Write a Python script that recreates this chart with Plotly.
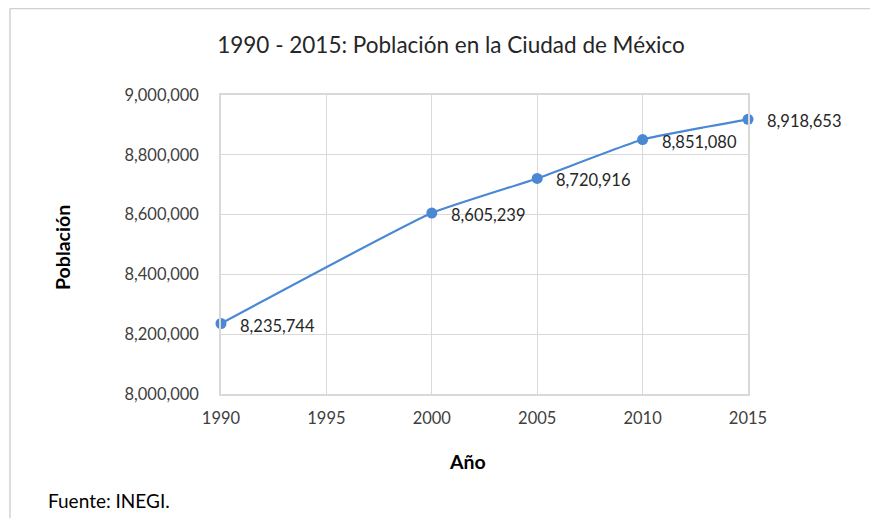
import plotly.graph_objects as go

years = [1990, 2000, 2005, 2010, 2015]
population = [8235744, 8605239, 8720916, 8851080, 8918653]
labels = [f"{v:,}" for v in population]
y_ticks = [8000000, 8200000, 8400000, 8600000, 8800000, 9000000]
y_tick_text = [f"{v:,}" for v in y_ticks]
x_ticks = [1990, 1995, 2000, 2005, 2010, 2015]

FONT = "Lato"
BLUE = "#4A88D4"
GRID = "#D9D9D9"

# page body has an 8px default margin: work in screen coords, convert
OFF = 8
SW, SH = 878, 518
W, H = SW - OFF, SH - OFF
L, R, T, B = 221 - OFF, 748 - OFF, 95 - OFF, 394 - OFF
pw, ph = R - L, B - T
def px(x):
    return (x - OFF - L) / pw
def py(y):
    return (B - (y - OFF)) / ph

fig = go.Figure()
fig.add_trace(go.Scatter(
    x=years, y=population, mode="lines+markers",
    line=dict(color=BLUE, width=2.2, shape="spline", smoothing=0.4),
    marker=dict(color=BLUE, size=11),
    cliponaxis=False, hoverinfo="skip",
))

annotations = [
    dict(text=t, x=xv, y=yv, xref="x", yref="y", showarrow=False,
         xanchor="left", yanchor="middle", xshift=17, yshift=-2,
         font=dict(family=FONT, size=16.5, color="#262626"))
    for xv, yv, t in zip(years, population, labels)
]
annotations += [
    dict(text="<b>Población</b>", xref="paper", yref="paper",
         x=px(62), y=py(248), textangle=-90, showarrow=False,
         xanchor="center", yanchor="middle",
         font=dict(family=FONT, size=19.5, color="black")),
    dict(text="<b>Año</b>", xref="paper", yref="paper",
         x=px(467), y=py(461), showarrow=False,
         xanchor="center", yanchor="middle",
         font=dict(family=FONT, size=19.5, color="black")),
    dict(text="Fuente: INEGI.", xref="paper", yref="paper",
         x=px(46), y=py(500), showarrow=False,
         xanchor="left", yanchor="middle",
         font=dict(family=FONT, size=19, color="black")),
]

fig.update_layout(
    width=W, height=H,
    margin=dict(l=L, r=W - R, t=T, b=H - B),
    paper_bgcolor="white", plot_bgcolor="white",
    showlegend=False,
    title=dict(text="1990 - 2015: Población en la Ciudad de México",
               x=(451 - OFF) / W, xanchor="center", xref="container",
               y=1 - (45 - OFF) / H, yanchor="middle", yref="container",
               font=dict(family=FONT, size=22.5, color="#262626")),
    xaxis=dict(range=[1990, 2015], tickvals=x_ticks,
               showgrid=True, gridcolor=GRID, gridwidth=1,
               showline=True, linecolor=GRID, linewidth=1.5, mirror=True,
               zeroline=False, ticks="", ticklabelstandoff=8,
               tickfont=dict(family=FONT, size=16.5, color="#404040")),
    yaxis=dict(range=[8000000, 9000000], tickvals=y_ticks, ticktext=y_tick_text,
               showgrid=True, gridcolor=GRID, gridwidth=1,
               showline=True, linecolor=GRID, linewidth=1.5, mirror=True,
               zeroline=False, ticks="", ticklabelstandoff=17,
               tickfont=dict(family=FONT, size=16.5, color="#404040")),
    shapes=[
        dict(type="line", xref="paper", yref="paper",
             x0=px(10), y0=py(8.5), x1=px(SW + 5), y1=py(8.5),
             line=dict(color="#D0D0D0", width=1.5)),
        dict(type="line", xref="paper", yref="paper",
             x0=px(10), y0=py(8.5), x1=px(10), y1=py(SH + 5),
             line=dict(color="#D0D0D0", width=1.5)),
    ],
    annotations=annotations,
)

fig.write_html("out.html")
